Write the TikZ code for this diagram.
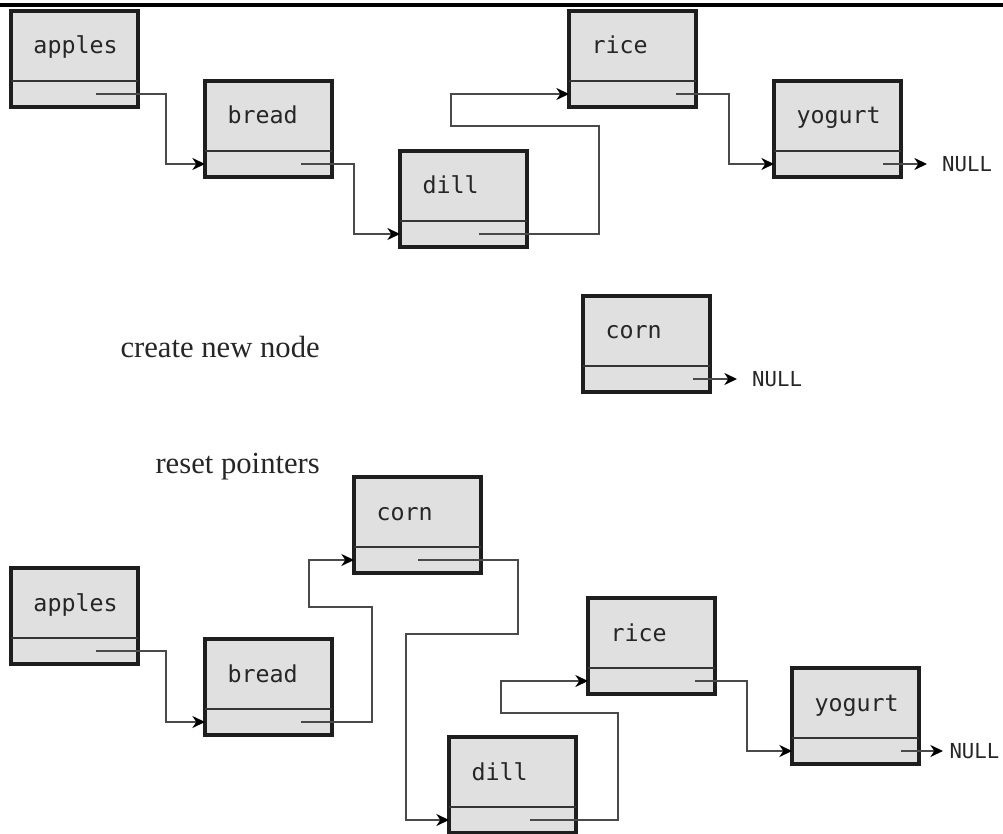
\documentclass[tikz,border=0pt]{standalone}
\usepackage{fontspec}
\setmainfont{Liberation Serif}
\newfontfamily\cellfont{DejaVu Sans Mono}
\usetikzlibrary{arrows.meta}

\definecolor{cellfill}{HTML}{E0E0E0}
\definecolor{cellline}{HTML}{1E1E1E}
\definecolor{linkline}{HTML}{4A4A4A}

\tikzset{every picture/.style={line width=0.75pt}}
\tikzset{
  cellbox/.style={draw=cellline, fill=cellfill, line width=2.8pt, anchor=north west,
    inner sep=0pt, outer sep=0pt, minimum width=95.25pt, minimum height=72pt},
  divider/.style={draw=cellline!90, line width=1.8pt},
  celltext/.style={anchor=base west, inner sep=0pt, text=black!85,
    font=\cellfont\fontsize{17.5}{20}\selectfont},
  nulltext/.style={anchor=west, inner xsep=11pt, inner ysep=0pt, text=black!85,
    font=\cellfont\fontsize{15.5}{19}\selectfont},
  caption/.style={anchor=base west, inner sep=0pt, text=black!85,
    font=\fontsize{23}{27}\selectfont},
  link/.style={draw=linkline, line width=1.5pt,
    -{Stealth[length=9.5pt,width=9pt,inset=3pt,color=black]}},
}

% one list cell: name, left, top, label, pointer start
\newcommand{\listcell}[5]{%
  \node[cellbox] (#1) at (#2,#3) {};
  \draw[divider] (#2,#3+70) -- (#2+127,#3+70);
  \node[celltext] (#1-txt) at (#2+22,#3+43) {#4};
  \coordinate (#1-in) at (#2,#3+83);
  \coordinate (#1-out) at (#2+#5,#3+83);
}

\begin{document}
\begin{tikzpicture}[x=0.75pt,y=0.75pt,yscale=-1,xscale=1]
\useasboundingbox (0,0) rectangle (1003,834);

%Straight Lines: top rule
\draw [line width=2.4pt, black] (0,5) -- (1003,5);

%Shape: list before insert
\listcell{apples1}{11}{11}{apples}{85}
\listcell{bread1}{205}{81}{bread}{96}
\listcell{dill1}{400}{151}{dill}{79}
\listcell{rice1}{569}{11}{rice}{107}
\listcell{yogurt1}{774}{81}{yogurt}{109}
\node[nulltext] (null1) at (927,164) {NULL};

%Shape: new node
\listcell{corn0}{583}{296}{corn}{110}
\node[nulltext] (null0) at (737,379) {NULL};

%Shape: list after insert
\listcell{corn2}{354}{477}{corn}{64}
\listcell{apples2}{11}{568}{apples}{85}
\listcell{bread2}{205}{639}{bread}{96}
\listcell{dill2}{449}{737}{dill}{81}
\listcell{rice2}{588}{598}{rice}{107}
\listcell{yogurt2}{792}{668}{yogurt}{109}
\node[nulltext, inner xsep=4.5pt] (null2) at (943,751) {NULL};

% Text Node
\node[caption] (newlbl) at (120,357) {create new node};
% Text Node
\node[caption] (resetlbl) at (155,473) {reset pointers};

%Connectors: before
\draw[link] (apples1-out) -| (166,164) -- (bread1-in);
\draw[link] (bread1-out) -| (354,234) -- (dill1-in);
\draw[link] (dill1-out) -| (599,126) -| (451,94) -- (rice1-in);
\draw[link] (rice1-out) -| (729,164) -- (yogurt1-in);
\draw[link] (yogurt1-out) -- (null1.west);

%Connectors: new node
\draw[link] (corn0-out) -- (null0.west);

%Connectors: after
\draw[link] (apples2-out) -| (166,722) -- (bread2-in);
\draw[link] (bread2-out) -| (372,607) -| (309,560) -- (corn2-in);
\draw[link] (corn2-out) -| (518,634) -| (406,820) -- (dill2-in);
\draw[link] (dill2-out) -| (618,713) -| (501,681) -- (rice2-in);
\draw[link] (rice2-out) -| (747,751) -- (yogurt2-in);
\draw[link] (yogurt2-out) -- (null2.west);

\end{tikzpicture}
\end{document}
